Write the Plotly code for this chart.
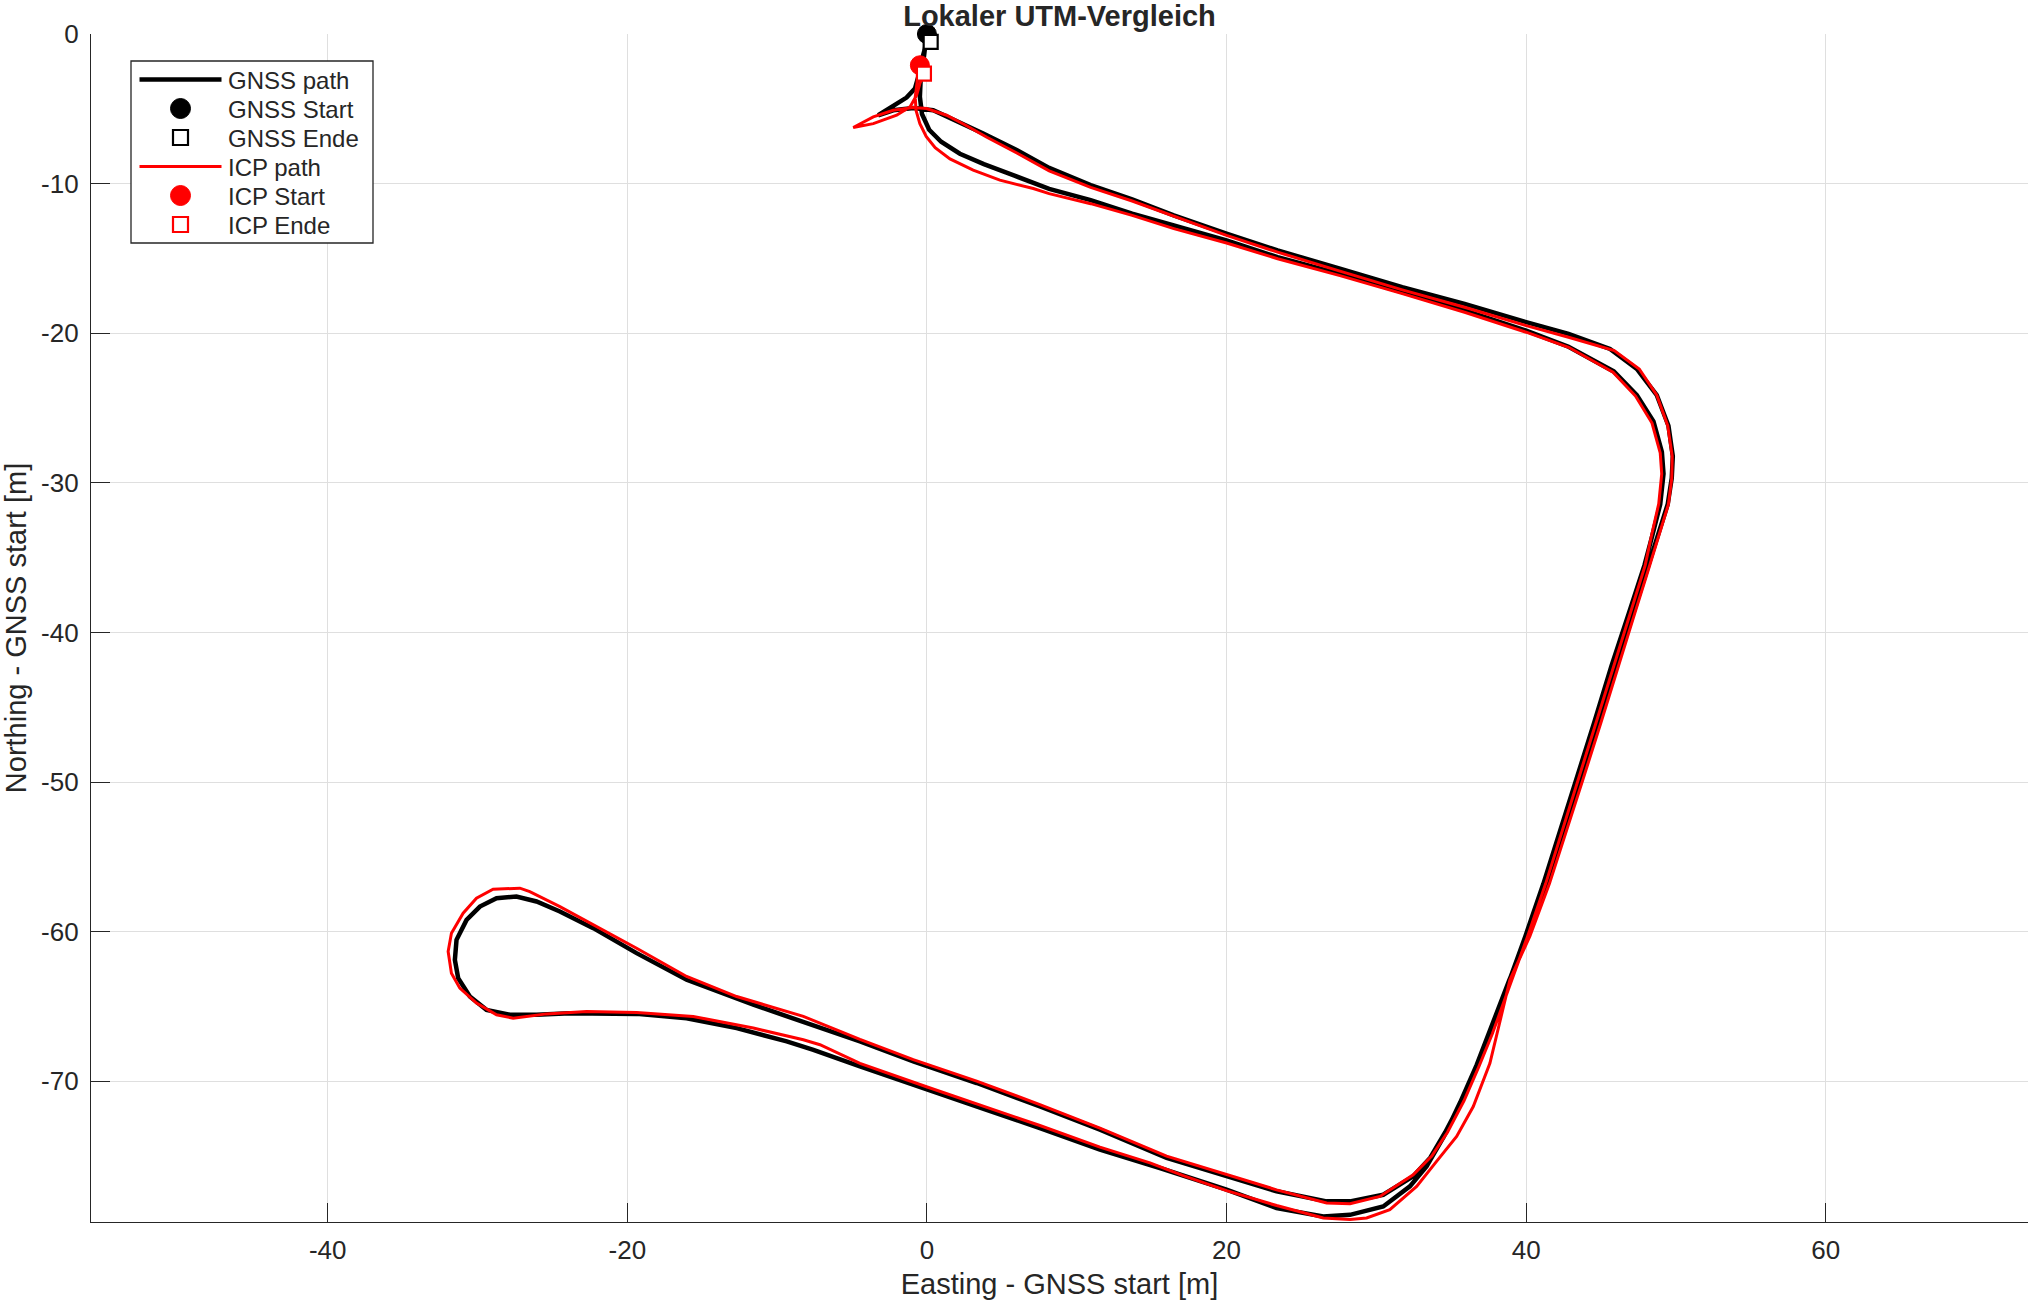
import plotly.graph_objects as go

# ---------------- data (metres relative to GNSS start) ----------------
gnss_east = [
    0.00, -0.13, -0.29, -0.42, -0.47, -0.33, 0.15, 0.95, 2.20, 3.80, 5.80, 8.16, 10.93, 13.70, 16.48,
    20.00, 23.41, 27.57, 31.73, 35.89, 40.00, 42.83, 45.85, 47.39, 48.50, 49.06, 49.17, 48.95, 48.40,
    47.90, 46.85, 45.70, 44.55, 43.35, 42.25, 41.15, 39.95, 38.70, 37.60, 36.70, 35.70, 34.60, 33.60,
    32.46, 30.46, 28.24, 26.68, 23.34, 20.00, 16.00, 11.55, 7.54, 3.32, -0.91, -4.47, -7.14, -11.59,
    -16.04, -19.38, -22.27, -24.50, -26.06, -27.40, -28.73, -29.84, -30.73, -31.40, -31.51, -31.29,
    -30.51, -29.40, -27.84, -26.06, -23.84, -21.61, -19.38, -16.04, -12.70, -9.36, -7.58, -4.47, -0.03,
    3.98, 7.54, 11.55, 15.55, 20.00, 23.34, 26.46, 28.24, 30.46, 32.24, 33.35, 34.50, 35.60, 36.70,
    37.80, 38.85, 40.10, 41.40, 42.55, 43.65, 44.85, 46.00, 47.10, 48.15, 48.95, 49.45, 49.72, 49.79,
    49.50, 48.72, 47.39, 45.60, 42.83, 40.00, 35.89, 31.73, 27.57, 23.41, 20.00, 16.48, 13.70, 10.93,
    8.16, 5.99, 3.76, 1.98, 0.42, -0.91, -2.25, -3.25, -2.25, -1.36, -0.80, -0.58, -0.35, -0.13, 0.25,
]
gnss_north = [
    0.00, -0.87, -1.98, -3.09, -4.20, -5.35, -6.40, -7.20, -8.00, -8.70, -9.45, -10.35, -11.10, -12.01,
    -12.79, -13.79, -14.91, -16.03, -17.25, -18.48, -19.82, -20.90, -22.55, -24.14, -25.90, -27.93,
    -29.39, -31.43, -33.60, -35.50, -38.72, -42.22, -46.00, -49.80, -53.30, -56.80, -60.30, -63.80,
    -66.80, -69.00, -71.30, -73.40, -75.10, -76.35, -77.58, -78.02, -78.02, -77.35, -76.35, -75.12,
    -73.23, -71.67, -70.11, -68.67, -67.33, -66.44, -64.88, -63.21, -61.43, -59.76, -58.65, -57.98,
    -57.65, -57.76, -58.32, -59.21, -60.54, -61.88, -63.10, -64.33, -65.22, -65.55, -65.55, -65.44,
    -65.44, -65.49, -65.78, -66.44, -67.33, -67.89, -69.00, -70.56, -71.90, -73.12, -74.57, -75.79,
    -77.24, -78.47, -79.03, -78.92, -78.36, -77.02, -75.69, -73.70, -71.40, -68.90, -66.00, -63.30,
    -60.30, -56.80, -53.30, -49.80, -46.00, -42.22, -38.72, -35.51, -32.89, -31.43, -29.68, -28.22,
    -26.18, -24.14, -22.39, -21.05, -20.04, -19.26, -18.04, -16.92, -15.69, -14.46, -13.35, -12.12,
    -11.05, -10.10, -8.95, -7.75, -6.65, -5.80, -5.10, -4.95, -5.10, -5.43, -4.85, -4.25, -3.65,
    -2.87, -1.76, -0.98, -0.53,
]

icp_east = [
    -0.47, -0.64, -0.78, -0.73, -0.47, -0.05, 0.55, 1.54, 3.09, 4.87, 7.10, 8.16, 10.93, 13.70, 16.48,
    20.00, 23.41, 27.57, 31.73, 35.89, 40.00, 42.83, 45.80, 47.30, 48.40, 48.95, 49.05, 48.85, 48.35,
    47.95, 46.95, 45.85, 44.70, 43.50, 42.40, 41.30, 40.10, 38.85, 37.75, 36.85, 35.85, 34.75, 33.70,
    32.46, 30.24, 28.24, 26.68, 23.34, 20.00, 16.00, 11.55, 7.54, 3.32, -0.91, -4.47, -8.25, -12.70,
    -16.04, -19.38, -22.27, -24.50, -26.51, -27.17, -28.96, -30.07, -30.96, -31.74, -31.96, -31.74,
    -31.18, -30.07, -28.73, -27.62, -25.39, -22.72, -19.38, -15.60, -11.59, -8.25, -7.14, -4.47, -0.03,
    3.98, 7.54, 11.55, 14.89, 17.11, 20.00, 23.34, 26.46, 28.24, 29.35, 30.90, 32.69, 34.02, 35.36,
    36.47, 37.58, 38.92, 40.25, 41.55, 42.70, 43.80, 45.00, 46.15, 47.25, 48.25, 49.05, 49.50, 49.72,
    49.75, 49.45, 48.72, 47.55, 45.88, 42.83, 40.00, 35.89, 31.73, 27.57, 23.41, 20.00, 16.48, 13.70,
    10.93, 8.16, 6.00, 4.00, 2.50, 1.31, -0.02, -0.91, -2.25, -3.58, -4.92, -3.58, -2.02, -1.13, -0.69,
    -0.47, -0.20,
]
icp_north = [
    -2.09, -3.09, -4.21, -5.10, -5.99, -6.85, -7.60, -8.35, -9.10, -9.77, -10.33, -10.67, -11.34,
    -12.12, -13.01, -13.97, -15.02, -16.15, -17.35, -18.60, -19.93, -20.94, -22.60, -24.20, -26.00,
    -28.00, -29.40, -31.40, -33.60, -35.50, -38.72, -42.22, -46.00, -49.80, -53.30, -56.80, -60.30,
    -63.80, -66.80, -69.00, -71.30, -73.40, -75.00, -76.24, -77.69, -78.18, -78.13, -77.25, -76.24,
    -75.00, -73.12, -71.55, -69.98, -68.55, -67.20, -65.66, -64.33, -62.99, -61.10, -59.54, -58.32,
    -57.32, -57.09, -57.16, -57.76, -58.76, -60.10, -61.32, -62.77, -63.77, -64.77, -65.55, -65.78,
    -65.49, -65.33, -65.40, -65.66, -66.44, -67.22, -67.55, -68.80, -70.36, -71.72, -72.95, -74.40,
    -75.45, -76.30, -77.30, -78.30, -79.13, -79.24, -79.13, -78.57, -77.02, -75.35, -73.68, -71.68,
    -68.79, -63.21, -60.30, -56.80, -53.30, -49.80, -46.00, -42.22, -38.72, -35.51, -32.89, -31.43,
    -29.68, -28.22, -26.18, -24.14, -22.39, -21.16, -20.27, -19.49, -18.26, -17.10, -15.85, -14.58,
    -13.46, -12.19, -11.16, -10.25, -9.15, -7.95, -6.90, -6.05, -5.43, -4.98, -4.92, -5.10, -5.54,
    -6.25, -5.99, -5.43, -4.87, -4.10, -3.31, -2.65,
]

x_ticks = [-40, -20, 0, 20, 40, 60]
x_tick_labels = ["-40", "-20", "0", "20", "40", "60"]
y_ticks = [0, -10, -20, -30, -40, -50, -60, -70]
y_tick_labels = ["0", "-10", "-20", "-30", "-40", "-50", "-60", "-70"]

legend_labels = ["GNSS path", "GNSS Start", "GNSS Ende", "ICP path", "ICP Start", "ICP Ende"]

title_text = "Lokaler UTM-Vergleich"
x_title = "Easting - GNSS start [m]"
y_title = "Northing - GNSS start [m]"

# ---------------- figure ----------------
FONT = "Liberation Sans, Arial, sans-serif"
TXT = "#262626"
W, H = 2032, 1302
ML, MR, MT, MB = 91, 4, 34, 80
PW, PH = W - ML - MR, H - MT - MB

fig = go.Figure()
fig.add_trace(go.Scatter(x=gnss_east, y=gnss_north, mode="lines", name=legend_labels[0],
                         line=dict(color="black", width=4.5)))
fig.add_trace(go.Scatter(x=[gnss_east[0]], y=[gnss_north[0]], mode="markers", name=legend_labels[1],
                         cliponaxis=False,
                         marker=dict(symbol="circle", size=19, color="black",
                                     line=dict(color="black", width=1))))
fig.add_trace(go.Scatter(x=[gnss_east[-1]], y=[gnss_north[-1]], mode="markers", name=legend_labels[2],
                         cliponaxis=False,
                         marker=dict(symbol="square", size=14, color="white",
                                     line=dict(color="black", width=2.2))))
fig.add_trace(go.Scatter(x=icp_east, y=icp_north, mode="lines", name=legend_labels[3],
                         line=dict(color="red", width=3)))
fig.add_trace(go.Scatter(x=[icp_east[0]], y=[icp_north[0]], mode="markers", name=legend_labels[4],
                         cliponaxis=False,
                         marker=dict(symbol="circle", size=19, color="red",
                                     line=dict(color="red", width=1))))
fig.add_trace(go.Scatter(x=[icp_east[-1]], y=[icp_north[-1]], mode="markers", name=legend_labels[5],
                         cliponaxis=False,
                         marker=dict(symbol="square", size=14, color="white",
                                     line=dict(color="red", width=2.2))))


# ---------------- legend drawn as a MATLAB-style box ----------------
def px2x(px):
    return (px - ML) / PW


def px2y(py):
    return 1 - (py - MT) / PH


shapes = []
annotations = []
box_l, box_r, box_t, box_b = 131, 373, 61, 243
shapes.append(dict(type="rect", xref="paper", yref="paper", layer="above",
                   x0=px2x(box_l), x1=px2x(box_r), y0=px2y(box_b), y1=px2y(box_t),
                   fillcolor="white", line=dict(color=TXT, width=1.3)))
row_y = [79.5, 108.5, 137.5, 166.5, 195.5, 224.5]
sym_cx = 180.5
line_x0, line_x1 = 139.5, 221.5
for i, lab in enumerate(legend_labels):
    cy = row_y[i]
    col = "black" if i < 3 else "red"
    kind = i % 3
    if kind == 0:
        shapes.append(dict(type="line", xref="paper", yref="paper", layer="above",
                           x0=px2x(line_x0), x1=px2x(line_x1), y0=px2y(cy), y1=px2y(cy),
                           line=dict(color=col, width=4.5 if i == 0 else 3)))
    elif kind == 1:
        r = 10
        shapes.append(dict(type="circle", xref="paper", yref="paper", layer="above",
                           x0=px2x(sym_cx - r), x1=px2x(sym_cx + r),
                           y0=px2y(cy + r), y1=px2y(cy - r),
                           fillcolor=col, line=dict(color=col, width=1)))
    else:
        h = 7.5
        shapes.append(dict(type="rect", xref="paper", yref="paper", layer="above",
                           x0=px2x(sym_cx - h), x1=px2x(sym_cx + h),
                           y0=px2y(cy + h), y1=px2y(cy - h),
                           fillcolor="white", line=dict(color=col, width=2.2)))
    annotations.append(dict(text=lab, xref="paper", yref="paper", x=px2x(226), y=px2y(cy + 1),
                            xanchor="left", yanchor="middle", showarrow=False,
                            font=dict(family=FONT, size=24, color=TXT)))

axis_common = dict(
    showgrid=True, gridcolor="#dfdfdf", gridwidth=1,
    zeroline=False, showline=True, linecolor=TXT, linewidth=1.3,
    ticks="inside", ticklen=19, tickwidth=1.3, tickcolor=TXT,
    tickfont=dict(family=FONT, size=26, color=TXT),
    mirror=False, automargin=False,
)

fig.update_layout(
    width=W, height=H,
    margin=dict(l=ML, r=MR, t=MT, b=MB, pad=0),
    paper_bgcolor="white", plot_bgcolor="white",
    font=dict(family=FONT, color=TXT),
    title=dict(text="<b>" + title_text + "</b>", x=0.5, xref="paper", xanchor="center",
               y=1 - 16 / H, yref="container", yanchor="middle",
               font=dict(family=FONT, size=29, color=TXT)),
    xaxis=dict(range=[-55.8, 73.5], tickvals=x_ticks, ticktext=x_tick_labels,
               title=dict(text=x_title, font=dict(family=FONT, size=29, color=TXT), standoff=9),
               ticklabelstandoff=5, **axis_common),
    yaxis=dict(range=[-79.4, 0], tickvals=y_ticks, ticktext=y_tick_labels,
               title=dict(text=y_title, font=dict(family=FONT, size=29, color=TXT), standoff=10),
               ticklabelstandoff=6, **axis_common),
    shapes=shapes,
    annotations=annotations,
    showlegend=False,
)

fig.write_html("out.html", post_script="document.body.style.margin='0';")
